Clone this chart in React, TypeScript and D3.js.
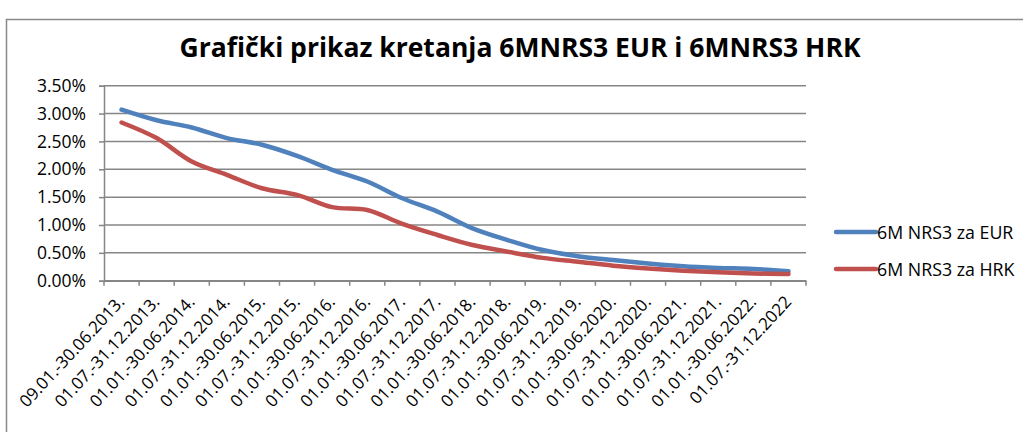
import * as d3 from "d3";
import React, { useEffect, useRef } from "react";

// Half-year periods
const categories = [
  "09.01.-30.06.2013.", "01.07.-31.12.2013.",
  "01.01.-30.06.2014.", "01.07.-31.12.2014.",
  "01.01.-30.06.2015.", "01.07.-31.12.2015.",
  "01.01.-30.06.2016.", "01.07.-31.12.2016.",
  "01.01.-30.06.2017.", "01.07.-31.12.2017.",
  "01.01.-30.06.2018.", "01.07.-31.12.2018.",
  "01.01.-30.06.2019.", "01.07.-31.12.2019.",
  "01.01.-30.06.2020.", "01.07.-31.12.2020.",
  "01.01.-30.06.2021.", "01.07.-31.12.2021.",
  "01.01.-30.06.2022.", "01.07.-31.12.2022",
];

// values in %
const eurValues = [3.07, 2.88, 2.75, 2.56, 2.44, 2.24, 1.99, 1.78, 1.48, 1.24,
  0.94, 0.73, 0.55, 0.44, 0.37, 0.31, 0.26, 0.23, 0.21, 0.17];
const hrkValues = [2.84, 2.56, 2.14, 1.9, 1.66, 1.54, 1.32, 1.27, 1.02, 0.82,
  0.64, 0.52, 0.41, 0.34, 0.27, 0.22, 0.18, 0.15, 0.13, 0.12];

const yTicks = [0, 0.5, 1, 1.5, 2, 2.5, 3, 3.5];

const seriesNames = ["6M NRS3 za EUR", "6M NRS3 za HRK"];
const seriesColors = ["#4F81BD", "#C0504D"];

const FONT = "'Open Sans', sans-serif";

const App = () => {
  const ref = useRef<SVGSVGElement | null>(null);

  useEffect(() => {
    if (ref.current) draw();
    return () => {
      d3.select(ref.current).selectAll("*").remove();
    };
  }, []);

  const draw = () => {
    const width = 1023;
    const height = 432;
    const plot = { left: 104, right: 806, top: 85.7, bottom: 280.7 };

    const svg = d3.select(ref.current);

    // outer chart frame
    svg.append("rect")
      .attr("x", 6.5).attr("y", 19.5)
      .attr("width", width + 20).attr("height", height + 20)
      .attr("fill", "white")
      .attr("stroke", "#898989")
      .attr("stroke-width", 1.5);

    svg.append("text")
      .attr("x", 520).attr("y", 57)
      .attr("text-anchor", "middle")
      .attr("font-family", FONT)
      .attr("font-weight", "bold")
      .attr("font-size", 26.5)
      .attr("fill", "#000")
      .text("Grafički prikaz kretanja 6MNRS3 EUR i 6MNRS3 HRK");

    const x = d3.scaleBand()
      .domain(categories)
      .range([plot.left, plot.right]);

    const y = d3.scaleLinear()
      .domain([0, 3.5])
      .range([plot.bottom, plot.top]);

    // gridlines
    svg.append("g")
      .selectAll("line")
      .data(yTicks)
      .enter()
      .append("line")
      .attr("x1", plot.left).attr("x2", plot.right)
      .attr("y1", (d) => y(d)).attr("y2", (d) => y(d))
      .attr("stroke", "#868686")
      .attr("stroke-width", 1.5);

    // y axis
    const yAxis = svg.append("g")
      .attr("transform", `translate(${plot.left},0)`)
      .call(d3.axisLeft(y).tickValues(yTicks).tickSize(5).tickPadding(13)
        .tickFormat((d) => d3.format(".2f")(d as number) + "%"));
    yAxis.select(".domain").attr("stroke", "#868686").attr("stroke-width", 1.5);
    yAxis.selectAll(".tick line").attr("stroke", "#868686").attr("stroke-width", 1.5);
    yAxis.selectAll(".tick text")
      .attr("font-family", FONT).attr("font-size", 17.5).attr("fill", "#000");

    // x axis
    const xAxis = svg.append("g")
      .attr("transform", `translate(0,${plot.bottom})`)
      .call(d3.axisBottom(x).tickSize(0).tickPadding(0));
    xAxis.select(".domain").attr("stroke", "#868686").attr("stroke-width", 1.5);
    xAxis.selectAll(".tick text")
      .attr("font-family", FONT).attr("font-size", 17).attr("fill", "#000")
      .attr("text-anchor", "end")
      .attr("dy", null)
      .attr("y", 0)
      .attr("transform", "translate(4,22) rotate(-47)");

    // category boundary ticks
    const bounds = categories.map((c) => x(c) as number).concat([plot.right]);
    svg.append("g")
      .selectAll("line")
      .data(bounds)
      .enter()
      .append("line")
      .attr("x1", (d) => d).attr("x2", (d) => d)
      .attr("y1", plot.bottom).attr("y2", plot.bottom + 5)
      .attr("stroke", "#868686")
      .attr("stroke-width", 1.5);

    const line = d3.line<number>()
      .x((_, i) => (x(categories[i]) as number) + x.bandwidth() / 2)
      .y((d) => y(d))
      .curve(d3.curveCatmullRom);

    [eurValues, hrkValues].forEach((vals, i) => {
      svg.append("path")
        .datum(vals)
        .attr("d", line)
        .attr("fill", "none")
        .attr("stroke", seriesColors[i])
        .attr("stroke-width", 4.5)
        .attr("stroke-linecap", "round");
    });

    // legend
    const legend = svg.append("g");
    seriesNames.forEach((name, i) => {
      const ly = 232 + i * 37;
      legend.append("line")
        .attr("x1", 836).attr("x2", 876)
        .attr("y1", ly).attr("y2", ly)
        .attr("stroke", seriesColors[i])
        .attr("stroke-width", 4.5)
        .attr("stroke-linecap", "round");
      legend.append("text")
        .attr("x", 877).attr("y", ly + 6.5)
        .attr("font-family", FONT).attr("font-size", 17.8).attr("fill", "#000")
        .text(name);
    });
  };

  return (
    <svg
      ref={ref}
      width={1023}
      height={432}
      style={{ position: "absolute", left: 0, top: 0, background: "white" }}
    />
  );
};

export default App;
